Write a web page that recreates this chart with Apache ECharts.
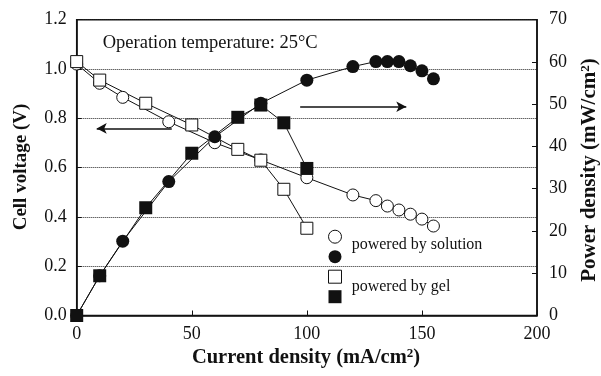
<!DOCTYPE html>
<html>
<head>
<meta charset="utf-8">
<script src="https://cdn.jsdelivr.net/npm/echarts@6/dist/echarts.min.js"></script>
<style>
  html, body { margin: 0; padding: 0; background: #fff; }
  #chart { width: 601px; height: 376px; }
</style>
</head>
<body>
<div id="chart"></div>
<script>
// Current density (mA/cm2) and measured values for the fuel cell runs
const solutionCurrent = [0, 10, 20, 40, 60, 80, 100, 120, 130, 135, 140, 145, 150, 155];
const solutionVoltage = [1.02, 0.942, 0.885, 0.786, 0.701, 0.631, 0.559, 0.489, 0.466, 0.444, 0.428, 0.411, 0.391, 0.363];
const solutionPower   = [0, 9.4, 17.6, 31.7, 42.3, 50.2, 55.7, 58.9, 60.1, 60.1, 60.1, 59.1, 57.9, 56.0];

const gelCurrent = [0, 10, 30, 50, 70, 80, 90, 100];
const gelVoltage = [1.03, 0.955, 0.861, 0.773, 0.674, 0.630, 0.512, 0.354];
const gelPower   = [0, 9.4, 25.5, 38.4, 46.9, 49.8, 45.6, 34.8];

const xTicks = [0, 50, 100, 150, 200];
const voltageTicks = ['0.0', '0.2', '0.4', '0.6', '0.8', '1.0', '1.2'];
const powerTicks = [0, 10, 20, 30, 40, 50, 60, 70];

// Arrows telling which axis each curve family belongs to (in current/voltage units)
const voltageArrow = [[41.3, 0.759], [8.7, 0.759]];
const powerArrow = [[97.1, 0.847], [143.2, 0.847]];

const pairs = (xs, ys) => xs.map((x, i) => [x, ys[i]]);

const SERIF = '"Liberation Serif", "Times New Roman", serif';
const INK = '#111';

const chart = echarts.init(document.getElementById('chart'), null, { renderer: 'canvas' });

const tickLabel = { fontFamily: SERIF, fontSize: 18, color: INK };
const axisLine = { show: true, lineStyle: { color: INK, width: 1.5 } };
const inTick = { show: true, inside: true, length: 5, lineStyle: { color: INK, width: 1 } };

const baseLine = {
  type: 'line',
  symbolSize: 12,
  lineStyle: { color: INK, width: 1 },
  animation: false,
  silent: true
};

const titleText = (text, x, y, size, rotate) => ({
  type: 'text',
  x: x, y: y,
  rotation: rotate ? Math.PI / 2 : 0,
  style: {
    text: text,
    fill: INK,
    align: 'center',
    verticalAlign: 'middle',
    font: 'bold ' + size + 'px ' + SERIF,
    rich: {
      b: { fontFamily: SERIF, fontWeight: 'bold', fontSize: size, fill: INK },
      sup: { fontFamily: SERIF, fontWeight: 'bold', fontSize: Math.round(size * 0.62), verticalAlign: 'top', fill: INK }
    }
  }
});

chart.setOption({
  backgroundColor: '#fff',
  animation: false,
  grid: {
    left: 76.7, right: 64, top: 19.7, bottom: 60.5,
    show: true, borderColor: INK, borderWidth: 1.5, backgroundColor: 'transparent'
  },
  xAxis: {
    type: 'value', min: xTicks[0], max: xTicks[xTicks.length - 1], interval: 50,
    axisLine: axisLine, axisTick: inTick,
    axisLabel: Object.assign({ margin: 10 }, tickLabel),
    splitLine: { show: false }
  },
  yAxis: [
    {
      type: 'value', min: 0, max: 1.2, interval: 0.2,
      axisLine: axisLine, axisTick: inTick,
      axisLabel: Object.assign({ margin: 10, formatter: (v) => voltageTicks[Math.round(v / 0.2)] }, tickLabel),
      splitLine: { show: true, lineStyle: { color: '#222', width: 1, type: [1, 1] } }
    },
    {
      type: 'value', min: powerTicks[0], max: powerTicks[powerTicks.length - 1], interval: 10,
      axisLine: axisLine, axisTick: inTick,
      axisLabel: Object.assign({ margin: 12 }, tickLabel),
      splitLine: { show: false }
    }
  ],
  series: [
    Object.assign({}, baseLine, {
      name: 'solution voltage', yAxisIndex: 0,
      data: pairs(solutionCurrent, solutionVoltage),
      symbol: 'circle',
      itemStyle: { color: '#fff', borderColor: INK, borderWidth: 1 },
      markLine: {
        silent: true, animation: false,
        symbol: ['none', 'arrow'], symbolSize: [8, 10],
        label: { show: false },
        lineStyle: { color: INK, width: 1.5, type: 'solid' },
        data: [
          [{ coord: voltageArrow[0] }, { coord: voltageArrow[1] }],
          [{ coord: powerArrow[0] }, { coord: powerArrow[1] }]
        ]
      }
    }),
    Object.assign({}, baseLine, {
      name: 'gel voltage', yAxisIndex: 0,
      data: pairs(gelCurrent, gelVoltage),
      symbol: 'rect',
      itemStyle: { color: '#fff', borderColor: INK, borderWidth: 1 }
    }),
    Object.assign({}, baseLine, {
      name: 'solution power', yAxisIndex: 1,
      data: pairs(solutionCurrent, solutionPower),
      symbol: 'circle', symbolSize: 13,
      itemStyle: { color: INK, borderColor: INK, borderWidth: 0 }
    }),
    Object.assign({}, baseLine, {
      name: 'gel power', yAxisIndex: 1,
      data: pairs(gelCurrent, gelPower),
      symbol: 'rect', symbolSize: 13,
      itemStyle: { color: INK, borderColor: INK, borderWidth: 0 }
    })
  ],
  graphic: [
    // operating condition note
    {
      type: 'text', x: 102.7, y: 43,
      style: { text: 'Operation temperature: 25°C', font: '18.5px ' + SERIF, fill: INK, verticalAlign: 'middle' }
    },
    // key: open/filled circles for solution, open/filled squares for gel
    { type: 'circle', shape: { cx: 335, cy: 236.7, r: 6.5 }, style: { fill: '#fff', stroke: INK, lineWidth: 1 } },
    { type: 'circle', shape: { cx: 335, cy: 256.7, r: 6.5 }, style: { fill: INK } },
    { type: 'rect', shape: { x: 328.5, y: 270.2, width: 13, height: 13 }, style: { fill: '#fff', stroke: INK, lineWidth: 1 } },
    { type: 'rect', shape: { x: 328.5, y: 290.2, width: 13, height: 13 }, style: { fill: INK } },
    { type: 'text', x: 351.7, y: 245, style: { text: 'powered by solution', font: '16px ' + SERIF, fill: INK, verticalAlign: 'middle' } },
    { type: 'text', x: 351.7, y: 286.7, style: { text: 'powered by gel', font: '16px ' + SERIF, fill: INK, verticalAlign: 'middle' } },
    // axis titles
    titleText('{b|Current density (mA/cm}{sup|2}{b|)}', 306, 358, 20.5, false),
    titleText('{b|Cell voltage (V)}', 21, 167, 19, true),
    titleText('{b|Power density (mW/cm}{sup|2}{b|)}', 590, 170, 21, true)
  ]
});
</script>
</body>
</html>
